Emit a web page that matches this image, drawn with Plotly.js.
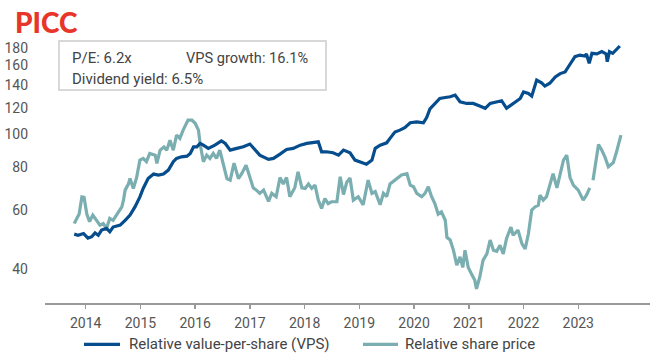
<!DOCTYPE html>
<html>
<head>
<meta charset="utf-8">
<script src="https://cdn.plot.ly/plotly-3.0.1.min.js"></script>
<style>html,body{margin:0;padding:0;background:#fff;}#chart{width:650px;height:357px;}</style>
</head>
<body>
<div id="chart"></div>
<script>
// Relative value-per-share (VPS), time in fractional years
const vpsTime = [
  2013.79, 2013.86, 2013.96, 2014.04, 2014.11, 2014.17, 2014.23, 2014.29, 2014.38, 2014.44,
  2014.50, 2014.63, 2014.72, 2014.81, 2014.90, 2014.99, 2015.05, 2015.14, 2015.24, 2015.33,
  2015.42, 2015.51, 2015.60, 2015.66, 2015.75, 2015.85, 2015.91, 2015.97, 2016.03, 2016.09,
  2016.15, 2016.24, 2016.36, 2016.48, 2016.55, 2016.64, 2016.76, 2016.88, 2017.00, 2017.09,
  2017.18, 2017.34, 2017.43, 2017.55, 2017.67, 2017.79, 2017.92, 2018.04, 2018.19, 2018.25,
  2018.31, 2018.40, 2018.52, 2018.62, 2018.71, 2018.83, 2018.92, 2019.01, 2019.13, 2019.23,
  2019.29, 2019.38, 2019.50, 2019.56, 2019.65, 2019.74, 2019.83, 2019.93, 2020.05, 2020.17,
  2020.23, 2020.29, 2020.38, 2020.47, 2020.57, 2020.66, 2020.75, 2020.84, 2020.96, 2021.08,
  2021.20, 2021.30, 2021.39, 2021.51, 2021.60, 2021.69, 2021.81, 2021.94, 2022.00, 2022.09,
  2022.15, 2022.21, 2022.24, 2022.33, 2022.39, 2022.48, 2022.58, 2022.67, 2022.76, 2022.82,
  2022.88, 2022.94, 2023.03, 2023.12, 2023.15, 2023.20, 2023.25, 2023.34, 2023.43, 2023.51,
  2023.53, 2023.57, 2023.63, 2023.69, 2023.76
];
const vpsValue = [
  50.8, 50.4, 51.0, 49.4, 49.9, 51.2, 50.4, 52.2, 52.8, 51.6,
  53.3, 54.0, 55.8, 57.8, 61.1, 65.4, 69.3, 74.1, 76.4, 75.9,
  76.4, 78.5, 83.1, 85.0, 85.9, 86.3, 87.9, 91.9, 91.9, 94.1,
  93.0, 91.0, 93.0, 95.7, 94.1, 89.9, 91.0, 92.0, 93.7, 89.9,
  86.9, 84.4, 85.0, 87.5, 90.3, 91.0, 93.0, 94.1, 94.5, 95.1,
  88.9, 88.9, 88.3, 86.9, 89.9, 88.3, 84.0, 83.1, 81.7, 84.0,
  91.0, 93.0, 94.5, 97.4, 101.7, 103.0, 104.8, 108.3, 108.9, 108.3,
  112.2, 119.0, 123.5, 127.7, 128.6, 129.2, 130.7, 124.9, 123.5, 123.5,
  121.3, 119.5, 123.5, 124.5, 125.8, 119.5, 123.5, 127.7, 133.5, 132.2,
  129.8, 139.9, 144.8, 142.0, 139.0, 141.7, 147.9, 151.3, 153.0, 158.5,
  164.0, 169.8, 171.6, 170.5, 172.9, 162.3, 173.6, 172.9, 175.7, 172.9,
  164.0, 175.7, 173.6, 177.6, 182.5
];

// Relative share price (null = gap in the series)
const priceTime = [
  2013.79, 2013.84, 2013.88, 2013.93, 2013.97, 2014.02, 2014.07, 2014.13, 2014.19, 2014.26,
  2014.32, 2014.38, 2014.44, 2014.50, 2014.60, 2014.66, 2014.69, 2014.72, 2014.78, 2014.81,
  2014.87, 2014.93, 2014.99, 2015.05, 2015.11, 2015.17, 2015.27, 2015.30, 2015.36, 2015.43,
  2015.48, 2015.54, 2015.60, 2015.66, 2015.72, 2015.78, 2015.87, 2015.94, 2016.00, 2016.06,
  2016.09, 2016.15, 2016.21, 2016.27, 2016.33, 2016.39, 2016.45, 2016.51, 2016.58, 2016.64,
  2016.71, 2016.79, 2016.85, 2016.93, 2017.00, 2017.06, 2017.12, 2017.18, 2017.25, 2017.34,
  2017.40, 2017.48, 2017.55, 2017.61, 2017.67, 2017.73, 2017.82, 2017.88, 2017.95, 2018.01,
  2018.07, 2018.13, 2018.19, 2018.25, 2018.31, 2018.37, 2018.43, 2018.49, 2018.59, 2018.65,
  2018.71, 2018.77, 2018.83, 2018.89, 2018.98, 2019.07, 2019.16, 2019.23, 2019.29, 2019.38,
  2019.44, 2019.50, 2019.56, 2019.65, 2019.71, 2019.77, 2019.87, 2019.93, 2019.99, 2020.05,
  2020.14, 2020.20, 2020.26, 2020.32, 2020.38, 2020.44, 2020.50, 2020.57, 2020.60, 2020.66,
  2020.72, 2020.78, 2020.84, 2020.89, 2020.93, 2020.99, 2021.05, 2021.11, 2021.14, 2021.20,
  2021.26, 2021.33, 2021.39, 2021.45, 2021.51, 2021.57, 2021.63, 2021.69, 2021.77, 2021.81,
  2021.90, 2021.97, 2022.03, 2022.09, 2022.15, 2022.21, 2022.27, 2022.30, 2022.36, 2022.42,
  2022.48, 2022.54, 2022.61, 2022.67, 2022.73, 2022.79, 2022.85, 2022.91, 2023.00, 2023.09,
  2023.15, 2023.21, 2023.24, 2023.27, 2023.37, 2023.43, 2023.49, 2023.55, 2023.58, 2023.64,
  2023.70, 2023.75, 2023.78
];
const priceValue = [
  54.6, 56.9, 58.2, 65.4, 65.2, 58.2, 55.3, 57.8, 55.8, 54.0,
  54.6, 52.8, 56.5, 55.8, 59.1, 61.1, 64.0, 68.5, 71.4, 74.1,
  69.3, 74.6, 84.0, 85.0, 83.1, 87.9, 86.9, 82.1, 89.9, 91.9,
  89.9, 96.2, 89.9, 99.6, 97.4, 103.0, 110.3, 110.3, 107.9, 103.0,
  94.1, 83.1, 86.9, 85.0, 87.9, 85.0, 89.9, 82.3, 74.1, 73.3,
  82.3, 74.1, 76.6, 81.2, 74.6, 69.6, 68.5, 67.0, 68.5, 63.5,
  67.0, 65.5, 74.6, 71.4, 74.6, 65.5, 69.6, 77.6, 69.6, 69.3,
  71.4, 69.3, 70.9, 64.0, 60.5, 64.7, 62.5, 63.3, 63.3, 75.0,
  66.5, 72.3, 74.4, 64.0, 65.5, 62.0, 73.3, 67.0, 67.8, 62.0,
  67.0, 65.5, 71.4, 73.3, 74.6, 75.9, 76.6, 70.9, 70.1, 67.0,
  65.5, 67.0, 70.1, 65.5, 62.5, 58.2, 59.1, 55.8, 49.7, 48.8,
  45.5, 41.1, 43.5, 40.5, 45.5, 40.5, 38.7, 37.1, 35.0, 37.9,
  42.5, 44.4, 48.8, 45.5, 45.2, 47.1, 44.4, 49.3, 53.3, 50.4,
  52.2, 47.6, 45.9, 51.0, 59.8, 61.1, 61.8, 66.2, 64.0, 65.5,
  70.9, 76.6, 69.6, 76.6, 84.0, 86.9, 74.6, 70.9, 68.5, 64.0,
  66.2, 69.6, null, 73.3, 93.4, 89.9, 85.6, 80.3, 81.2, 82.6,
  88.9, 96.2, 99.6
];

const xTickYears = [2014, 2015, 2016, 2017, 2018, 2019, 2020, 2021, 2022, 2023];
const yTickValues = [40, 60, 80, 100, 120, 140, 160, 180];
const seriesNames = ['Relative value-per-share (VPS)', 'Relative share price'];
const statsLine1 = ['P/E: 6.2x', 'VPS growth: 16.1%'];
const statsLine2 = 'Dividend yield: 6.5%';

const FONT = 'Roboto, "Liberation Sans", Arial, sans-serif';
const BLUE = '#064d8d';
const TEAL = '#7aaeb0';

const traces = [
  {
    x: priceTime, y: priceValue, name: seriesNames[1], type: 'scatter', mode: 'lines',
    line: {color: TEAL, width: 3.2}, connectgaps: false
  },
  {
    x: vpsTime, y: vpsValue, name: seriesNames[0], type: 'scatter', mode: 'lines',
    line: {color: BLUE, width: 3.2}
  }
];

// legend drawn as paper-positioned keys (keeps plot area fixed)
const legendY = -0.1572;
const legendKeys = [
  {x0: 0.0645, x1: 0.1240, tx: 0.1355, color: BLUE, name: seriesNames[0]},
  {x0: 0.5256, x1: 0.5835, tx: 0.5917, color: TEAL, name: seriesNames[1]}
];

const shapes = [
  {type: 'rect', xref: 'paper', yref: 'paper', x0: 0.0231, x1: 0.4645, y0: 0.8097, y1: 0.9962,
   line: {color: '#cccccc', width: 1.5}, fillcolor: '#fff', layer: 'above'}
].concat(legendKeys.map(k => ({
  type: 'line', xref: 'paper', yref: 'paper', x0: k.x0, x1: k.x1, y0: legendY, y1: legendY,
  line: {color: k.color, width: 3.2}
})));

const annotations = [
  {text: 'PICC', xref: 'paper', yref: 'paper', x: -0.0535, y: 1.0666, xanchor: 'left', yanchor: 'middle',
   showarrow: false, font: {family: 'Lato, "Liberation Sans", Arial, sans-serif', size: 28, color: '#e8352a', weight: 900}},
  {text: statsLine1[0], xref: 'paper', yref: 'paper', x: 0.0413, y: 0.933, xanchor: 'left', yanchor: 'middle',
   showarrow: false, font: {family: FONT, size: 15, color: '#444'}},
  {text: statsLine1[1], xref: 'paper', yref: 'paper', x: 0.2300, y: 0.933, xanchor: 'left', yanchor: 'middle',
   showarrow: false, font: {family: FONT, size: 14.6, color: '#444'}},
  {text: statsLine2, xref: 'paper', yref: 'paper', x: 0.0413, y: 0.853, xanchor: 'left', yanchor: 'middle',
   showarrow: false, font: {family: FONT, size: 15, color: '#444'}}
].concat(legendKeys.map(k => ({
  text: k.name, xref: 'paper', yref: 'paper', x: k.tx, y: legendY, xanchor: 'left', yanchor: 'middle',
  showarrow: false, font: {family: FONT, size: 15, color: '#444'}
})));

const layout = {
  width: 650, height: 357,
  margin: {l: 45, r: 0, t: 40, b: 54.3, pad: 0},
  paper_bgcolor: '#fff', plot_bgcolor: '#fff',
  font: {family: FONT, size: 14, color: '#555'},
  showlegend: false,
  xaxis: {
    type: 'linear', range: [2013.256, 2024.311],
    tickvals: xTickYears, ticktext: xTickYears.map(String),
    ticks: 'outside', ticklen: 4, tickwidth: 1.5, tickcolor: '#999',
    showline: true, linecolor: '#999', linewidth: 1.5,
    showgrid: false, zeroline: false, fixedrange: true, ticklabelstandoff: 3,
    tickfont: {family: FONT, size: 14, color: '#555'}
  },
  yaxis: {
    type: 'log', range: [Math.log10(31.8), Math.log10(190.1)],
    tickvals: yTickValues, ticktext: yTickValues.map(String),
    ticks: '', showline: false, showgrid: false, zeroline: false, fixedrange: true,
    ticklabelstandoff: 16,
    tickfont: {family: FONT, size: 14, color: '#555'}
  },
  shapes: shapes,
  annotations: annotations,
  hovermode: false
};

Plotly.newPlot('chart', traces, layout, {displayModeBar: false, staticPlot: true});
</script>
</body>
</html>
